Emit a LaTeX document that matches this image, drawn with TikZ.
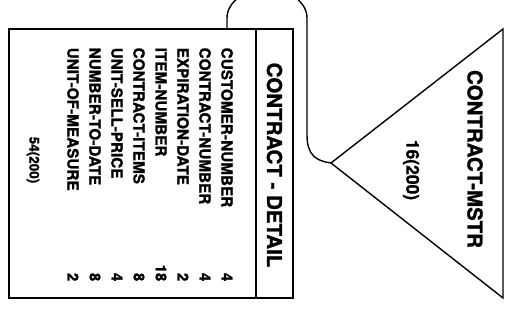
\documentclass[tikz,border=0pt]{standalone}
\usepackage{fontspec}
\setmainfont[BoldFeatures={FakeBold=1.2}]{TeX Gyre Heros}
\begin{document}
\begin{tikzpicture}[x=1pt,y=-1pt,line width=1.4pt,
  fld/.style={font=\fontsize{15.3}{17}\selectfont\bfseries,rotate=-90,anchor=west,inner sep=0pt},
  num/.style={font=\fontsize{15}{17}\selectfont\bfseries,rotate=-90,anchor=east,inner sep=0pt},
  ttl/.style={font=\fontsize{20.5}{22}\selectfont\bfseries,rotate=-90,inner sep=0pt},
  cnt/.style={font=\bfseries,rotate=-90,inner sep=0pt}]
\clip (0,0) rectangle (528,328);
% record box
\coordinate (btl) at (9,29);
\coordinate (bbr) at (293,298);
\draw (btl) rectangle (bbr);
\coordinate (dvt) at (256,29);
\coordinate (dvb) at (256,298);
\draw (dvt) -- (dvb);
\node[ttl] (hdr) at (274.5,165) {CONTRACT - DETAIL};
\foreach \t/\v [count=\i] in {CUSTOMER-NUMBER/4,CONTRACT-NUMBER/4,EXPIRATION-DATE/2,ITEM-NUMBER/18,CONTRACT-ITEMS/8,UNIT-SELL-PRICE/4,NUMBER-TO-DATE/8,UNIT-OF-MEASURE/2}{
  \pgfmathsetmacro{\xx}{227-22*(\i-1)}
  \node[fld] (f\i) at (\xx,47) {\t};
  \node[num] (v\i) at (\xx,282) {\v};
}
\node[cnt,font=\fontsize{13.5}{15}\selectfont\bfseries] (dcnt) at (33,160) {54(200)};
% triangle
\coordinate (apex) at (331,163);
\coordinate (ttr) at (503,29);
\coordinate (tbr) at (503,298);
\draw[line join=miter] (apex) -- (ttr) -- (tbr) -- cycle;
\node[ttl] (mstr) at (475,159) {CONTRACT-MSTR};
\node[cnt,font=\fontsize{17.5}{19}\selectfont\bfseries] (mcnt) at (411,170) {16(200)};
% connector
\coordinate (cs) at (227,29);
\draw (cs) -- (227,18) arc[start angle=180,end angle=360,x radius=40,y radius=29]
  -- (307,135) .. controls (307,155) and (316,161) .. (apex);
\end{tikzpicture}
\end{document}
